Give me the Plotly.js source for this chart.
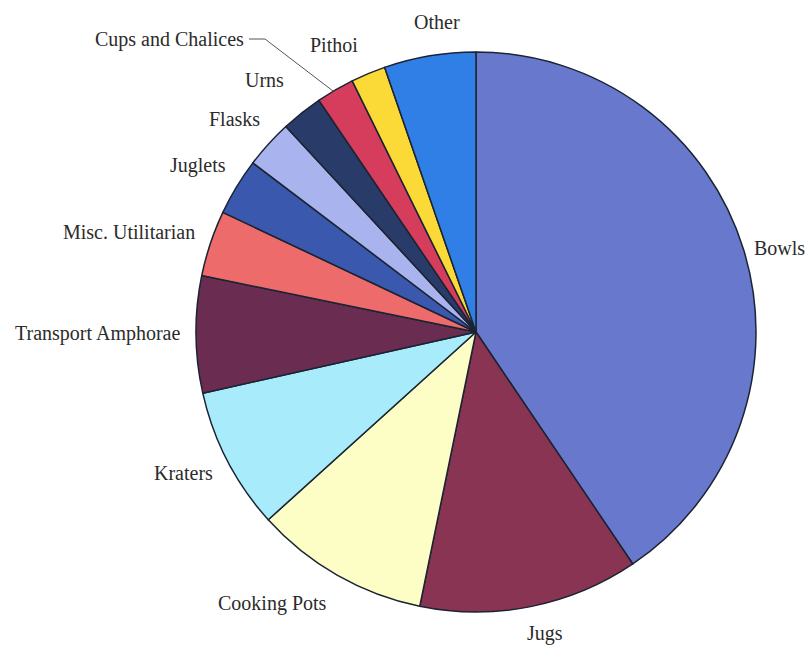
<!DOCTYPE html>
<html>
<head>
<meta charset="utf-8">
<script src="https://cdn.plot.ly/plotly-3.0.1.min.js"></script>
<style>html,body{margin:0;padding:0;background:#fff;}#chart{width:809px;height:645px;}</style>
</head>
<body>
<div id="chart"></div>
<script>
var categories = ["Bowls", "Jugs", "Cooking Pots", "Kraters", "Transport Amphorae", "Misc. Utilitarian", "Juglets", "Flasks", "Urns", "Cups and Chalices", "Pithoi", "Other"];
var shares = [40.6, 12.7, 10.1, 8.2, 6.75, 3.8, 3.3, 2.8, 2.4, 2.2, 2.0, 5.3];
var sliceColors = ["#6878cc", "#8a3453", "#fdfdc6", "#a8ecfc", "#6a2c50", "#ee6b6b", "#3a58ad", "#a9b3ee", "#293b68", "#d63c5b", "#fbd936", "#2f7fe6"];

// label placement (pixel centres in the 809x645 figure), layout only
var labelPos = [
  [779, 248], [545, 633], [272, 603], [183, 473], [97, 333], [129, 232],
  [198, 166], [234, 119], [264, 80], [169, 39], [334, 45], [437, 22]
];

var W = 809, H = 645;
var font = {family: "Liberation Serif, Times New Roman, serif", size: 20, color: "#2b2b2b"};

var annotations = categories.map(function (c, i) {
  return {
    text: c, showarrow: false, xref: "paper", yref: "paper",
    x: labelPos[i][0] / W, y: 1 - labelPos[i][1] / H,
    xanchor: "center", yanchor: "middle", font: font
  };
});

var leader = [[249, 39], [265, 39], [333, 91]];
var path = leader.map(function (p, i) {
  return (i === 0 ? "M" : "L") + (p[0] / W) + "," + (1 - p[1] / H);
}).join(" ");

var trace = {
  type: "pie",
  labels: categories,
  values: shares,
  sort: false,
  direction: "clockwise",
  rotation: 0,
  marker: {colors: sliceColors, line: {color: "#1b2433", width: 1.5}},
  textinfo: "none",
  hoverinfo: "label+percent",
  showlegend: false,
  domain: {x: [196 / W, 756 / W], y: [33 / H, 593 / H]}
};

var layout = {
  width: W,
  height: H,
  margin: {l: 0, r: 0, t: 0, b: 0},
  paper_bgcolor: "#ffffff",
  showlegend: false,
  font: font,
  annotations: annotations,
  shapes: [{type: "path", xref: "paper", yref: "paper", path: path, line: {color: "#555555", width: 1}}]
};

Plotly.newPlot("chart", [trace], layout, {staticPlot: true, displayModeBar: false});
</script>
</body>
</html>
